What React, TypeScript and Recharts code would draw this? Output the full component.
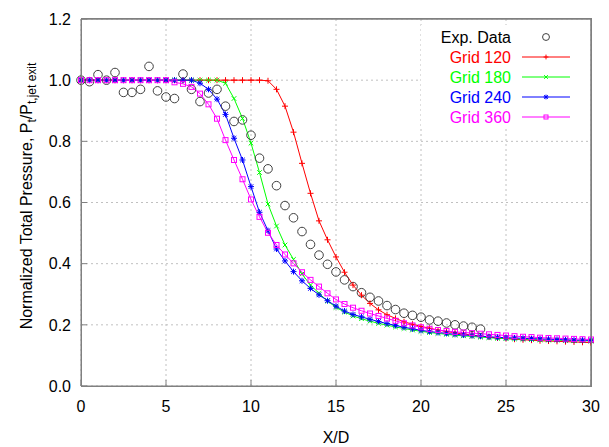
import { CartesianGrid, ComposedChart, Line, XAxis, YAxis } from 'recharts';

const gridX = [
  0, 0.5, 1, 1.5, 2, 2.5, 3, 3.5, 4, 4.5, 5, 5.5, 6, 6.5, 7, 7.5, 8, 8.5, 9, 9.5,
  10, 10.5, 11, 11.5, 12, 12.5, 13, 13.5, 14, 14.5, 15, 15.5, 16, 16.5, 17, 17.5,
  18, 18.5, 19, 19.5, 20, 20.5, 21, 21.5, 22, 22.5, 23, 23.5, 24, 24.5, 25, 25.5,
  26, 26.5, 27, 27.5, 28, 28.5, 29, 29.5, 30
];

const expY = [
  1.0, 0.995, 1.018, 1.0, 1.025, 0.96, 0.96, 0.97, 1.045, 0.965, 0.945, 0.94,
  1.02, 0.97, 0.93, 0.958, 0.97, 0.915, 0.865, 0.87, 0.82, 0.745, 0.71, 0.655,
  0.59, 0.55, 0.505, 0.463, 0.428, 0.398, 0.373, 0.347, 0.325, 0.305, 0.29,
  0.278, 0.263, 0.25, 0.238, 0.231, 0.225, 0.216, 0.212, 0.206, 0.2, 0.196,
  0.192, 0.186
];

const grid120 = [
  1, 1, 1, 1, 1, 1, 1, 1, 1, 1, 1, 1, 1, 1, 1, 1, 1, 1, 1, 1, 1, 1,
  0.998, 0.97, 0.915, 0.83, 0.728, 0.63, 0.54, 0.478, 0.422, 0.372, 0.33, 0.297,
  0.27, 0.249, 0.233, 0.221, 0.21, 0.202, 0.195, 0.189, 0.183, 0.178, 0.174,
  0.17, 0.166, 0.163, 0.16, 0.157, 0.155, 0.153, 0.151, 0.15, 0.148, 0.147,
  0.146, 0.145, 0.144, 0.143, 0.142
];

const grid180 = [
  1, 1, 1, 1, 1, 1, 1, 1, 1, 1, 1, 1, 1, 1, 1, 1, 1,
  0.99, 0.94, 0.875, 0.794, 0.698, 0.595, 0.523, 0.461, 0.414, 0.366, 0.33,
  0.303, 0.278, 0.257, 0.242, 0.229, 0.22, 0.212, 0.205, 0.199, 0.193, 0.188,
  0.183, 0.179, 0.175, 0.172, 0.169, 0.166, 0.164, 0.162, 0.16, 0.158, 0.156,
  0.155, 0.154, 0.153, 0.152, 0.151, 0.15, 0.15, 0.149, 0.148, 0.148, 0.147
];

const grid240 = [
  1, 1, 1, 1, 1, 1, 1, 1, 1, 1, 1, 1, 1, 1,
  0.99, 0.97, 0.938, 0.888, 0.81, 0.739, 0.652, 0.568, 0.508, 0.448, 0.409,
  0.374, 0.344, 0.319, 0.298, 0.279, 0.261, 0.245, 0.234, 0.226, 0.218, 0.211,
  0.204, 0.198, 0.192, 0.187, 0.182, 0.178, 0.175, 0.172, 0.169, 0.167, 0.165,
  0.163, 0.161, 0.159, 0.158, 0.157, 0.156, 0.155, 0.154, 0.153, 0.152, 0.151,
  0.15, 0.15, 0.149
];

const grid360 = [
  1, 1, 1, 1, 1, 1, 1, 1, 1, 1, 1,
  0.993, 0.988, 0.978, 0.956, 0.921, 0.874, 0.804, 0.739, 0.676, 0.61, 0.553,
  0.501, 0.461, 0.43, 0.401, 0.372, 0.347, 0.325, 0.303, 0.283, 0.268, 0.256,
  0.246, 0.237, 0.229, 0.221, 0.213, 0.205, 0.198, 0.192, 0.187, 0.183, 0.18,
  0.177, 0.175, 0.173, 0.171, 0.169, 0.167, 0.165, 0.163, 0.161, 0.16, 0.158,
  0.157, 0.156, 0.155, 0.154, 0.153, 0.152
];

const xTicks = [0, 5, 10, 15, 20, 25, 30];
const yTicks = [0, 0.2, 0.4, 0.6, 0.8, 1.0, 1.2];

const toPoints = (xs: number[], ys: number[]) =>
  ys.map((y, i) => ({ x: xs[i], y }));

const expData = toPoints(gridX, expY);

const FONT = '"Liberation Sans", Arial, sans-serif';
const FRAME = '#808080';

type Shape = 'circle' | 'plus' | 'cross' | 'star' | 'square';

const Marker = ({ shape, cx, cy, color, s = 1 }: { shape: Shape; cx: number; cy: number; color: string; s?: number }) => {
  if (shape === 'circle') {
    return <circle cx={cx} cy={cy} r={4.3 * s} fill="none" stroke={color} strokeWidth={1} />;
  }
  if (shape === 'square') {
    const h = 2.5 * s;
    return <rect x={cx - h} y={cy - h} width={2 * h} height={2 * h} fill="none" stroke={color} strokeWidth={1} />;
  }
  const a = 3 * s;
  const d = 2.3 * s;
  const plus = `M${cx - a},${cy}H${cx + a}M${cx},${cy - a}V${cy + a}`;
  const cross = `M${cx - d},${cy - d}L${cx + d},${cy + d}M${cx - d},${cy + d}L${cx + d},${cy - d}`;
  const path = shape === 'plus' ? plus : shape === 'cross' ? cross : plus + cross;
  return <path d={path} stroke={color} strokeWidth={1} fill="none" />;
};

const series = [
  { name: 'Grid 120', color: '#ff0000', shape: 'plus' as Shape, ys: grid120 },
  { name: 'Grid 180', color: '#00ff00', shape: 'cross' as Shape, ys: grid180 },
  { name: 'Grid 240', color: '#0000ff', shape: 'star' as Shape, ys: grid240 },
  { name: 'Grid 360', color: '#ff00ff', shape: 'square' as Shape, ys: grid360 }
];

const makeDot = (shape: Shape, color: string) => (props: any) => {
  const { cx, cy, index } = props;
  if (cx == null || cy == null) return <g key={index} />;
  return (
    <g key={index}>
      <Marker shape={shape} cx={cx} cy={cy} color={color} />
    </g>
  );
};

const LegendBox = () => (
  <svg
    width={169}
    height={102}
    style={{ position: 'absolute', left: 421, top: 25, background: '#fff' }}
  >
    <text x={90} y={12} dy="0.35em" textAnchor="end" fontFamily={FONT} fontSize={16} fill="#000">
      Exp. Data
    </text>
    <Marker shape="circle" cx={125} cy={12} color="#404040" s={0.8} />
    {series.map((s, i) => {
      const y = 32 + i * 20;
      return (
        <g key={s.name}>
          <text x={90} y={y} dy="0.35em" textAnchor="end" fontFamily={FONT} fontSize={16} fill={s.color}>
            {s.name}
          </text>
          <line x1={101} x2={149} y1={y} y2={y} stroke={s.color} strokeWidth={1} />
          <Marker shape={s.shape} cx={125} cy={y} color={s.color} s={0.8} />
        </g>
      );
    })}
  </svg>
);

const YLabel = () => (
  <svg width={45} height={447} style={{ position: 'absolute', left: 0, top: 0 }}>
    <text
      x={32}
      y={196}
      transform="rotate(-90 32 196)"
      textAnchor="middle"
      fontFamily={FONT}
      fontSize={16}
      fill="#000"
    >
      Normalized Total Pressure, P
      <tspan dy={4} fontSize={12}>t</tspan>
      <tspan dy={-4}>/P</tspan>
      <tspan dy={4} fontSize={12}>t,jet exit</tspan>
    </text>
  </svg>
);

export default function App() {
  const tickStyle = { fontFamily: FONT, fontSize: 16, fill: '#000' };
  return (
    <div style={{ position: 'absolute', left: 0, top: 0, width: 609, height: 447, background: '#fff' }}>
      <ComposedChart
        width={609}
        height={447}
        margin={{ top: 18, right: 17, bottom: 0, left: 0 }}
      >
        <CartesianGrid stroke="#c0c0c0" strokeDasharray="2 3" />
        <XAxis
          dataKey="x"
          type="number"
          domain={[0, 30]}
          ticks={xTicks}
          height={61}
          tick={tickStyle}
          tickSize={-6}
          tickMargin={21}
          tickLine={{ stroke: FRAME }}
          axisLine={{ stroke: FRAME }}
          label={{ value: 'X/D', position: 'insideBottom', offset: 4, fill: '#000', fontFamily: FONT, fontSize: 16 }}
        />
        <XAxis
          xAxisId="top"
          orientation="top"
          dataKey="x"
          type="number"
          domain={[0, 30]}
          ticks={xTicks}
          height={1}
          tick={false}
          tickSize={-6}
          tickLine={{ stroke: FRAME }}
          axisLine={{ stroke: FRAME, strokeWidth: 1.5 }}
        />
        <YAxis
          type="number"
          domain={[0, 1.2]}
          ticks={yTicks}
          width={81}
          tick={tickStyle}
          tickSize={-6}
          tickMargin={16}
          tickFormatter={(v: number) => v.toFixed(1)}
          tickLine={{ stroke: FRAME }}
          axisLine={{ stroke: FRAME }}
        />
        <YAxis
          yAxisId="right"
          orientation="right"
          type="number"
          domain={[0, 1.2]}
          ticks={yTicks}
          width={1}
          tick={false}
          tickSize={-6}
          tickLine={{ stroke: FRAME }}
          axisLine={{ stroke: FRAME, strokeWidth: 1.5 }}
        />
        <Line
          data={expData}
          dataKey="y"
          xAxisId="top"
          yAxisId="right"
          stroke="none"
          isAnimationActive={false}
          dot={makeDot('circle', '#404040')}
          activeDot={false}
        />
        {series.map((s) => (
          <Line
            key={s.name}
            data={toPoints(gridX, s.ys)}
            dataKey="y"
            name={s.name}
            stroke={s.color}
            strokeWidth={1}
            isAnimationActive={false}
            dot={makeDot(s.shape, s.color)}
            activeDot={false}
          />
        ))}
      </ComposedChart>
      <div
        style={{
          position: 'absolute',
          left: 81,
          top: 18,
          width: 511,
          height: 369,
          border: `1px solid ${FRAME}`,
          boxSizing: 'border-box',
          pointerEvents: 'none'
        }}
      />
      <YLabel />
      <LegendBox />
    </div>
  );
}
